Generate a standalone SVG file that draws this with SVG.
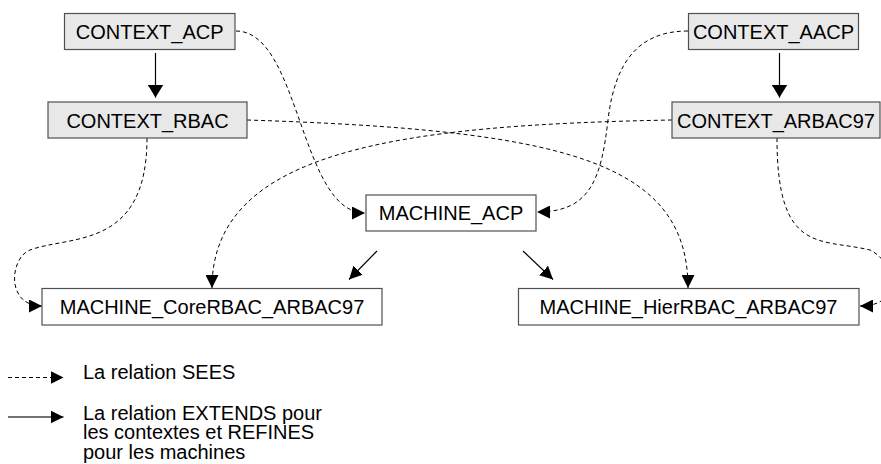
<svg xmlns="http://www.w3.org/2000/svg" width="881" height="464" viewBox="0 0 881 464">
<style>
  .box { stroke: #505050; stroke-width: 1.2; }
  .ctx { fill: #e8e8e8; }
  .mac { fill: #ffffff; }
  .lbl { font-family: "Liberation Sans", Arial, sans-serif; font-size: 20px; fill: #000; }
  .c { text-anchor: middle; }
  .sees { fill: none; stroke: #000; stroke-width: 1; stroke-dasharray: 4 3; }
  .ext { fill: none; stroke: #000; stroke-width: 1.2; }
</style>
<defs>
  <marker id="head" viewBox="0 0 13 13" markerWidth="13" markerHeight="13" refX="13" refY="6.5" orient="auto" markerUnits="userSpaceOnUse">
    <path d="M0,0 L13,6.5 L0,13 Z" fill="#000"/>
  </marker>
  <marker id="headBig" viewBox="0 0 13 16" markerWidth="13" markerHeight="16" refX="13" refY="8" orient="auto" markerUnits="userSpaceOnUse">
    <path d="M0,0 L13,8 L0,16 Z" fill="#000"/>
  </marker>
</defs>
<rect width="881" height="464" fill="#ffffff"/>

<g id="connectors">
  <path class="ext" d="M155.5,53 L155.5,97.5" marker-end="url(#headBig)"/>
  <path class="ext" d="M779.5,53 L779.5,97.5" marker-end="url(#headBig)"/>
  <path class="ext" d="M377,251 L349,279.5" marker-end="url(#head)"/>
  <path class="ext" d="M523,251 L553,279.5" marker-end="url(#head)"/>
  <path class="sees" d="M236,31 C300,31 300,213 365,213" marker-end="url(#head)"/>
  <path class="sees" d="M247,120 C560,130 688,160 688,288" marker-end="url(#head)"/>
  <path class="sees" d="M688,31 C640,31 615,60 608,120 C601,180 590,212 537,212" marker-end="url(#head)"/>
  <path class="sees" d="M672,120 C400,125 212,150 212,288" marker-end="url(#head)"/>
  <path class="sees" d="M147,138 C147,250 70,235 30,250 C10,257.5 5,306 42,306" marker-end="url(#head)"/>
  <path class="sees" d="M777,138 C777,255 820,238 870,250 C895,262 905,306 860,306" marker-end="url(#head)"/>
</g>

<g id="CONTEXT_ACP">
  <rect class="box ctx" x="64.5" y="13.5" width="170.5" height="36"/>
  <text class="lbl c" x="149.7" y="39">CONTEXT_ACP</text>
</g>
<g id="CONTEXT_RBAC">
  <rect class="box ctx" x="48" y="102" width="199" height="36"/>
  <text class="lbl c" x="147.5" y="127.5">CONTEXT_RBAC</text>
</g>
<g id="CONTEXT_AACP">
  <rect class="box ctx" x="688.5" y="13.5" width="170" height="36"/>
  <text class="lbl c" x="773.5" y="39">CONTEXT_AACP</text>
</g>
<g id="CONTEXT_ARBAC97">
  <rect class="box ctx" x="672" y="102" width="208" height="36"/>
  <text class="lbl c" x="776" y="127.5">CONTEXT_ARBAC97</text>
</g>
<g id="MACHINE_ACP">
  <rect class="box mac" x="366" y="195" width="170" height="36"/>
  <text class="lbl c" x="451" y="220">MACHINE_ACP</text>
</g>
<g id="MACHINE_CoreRBAC_ARBAC97">
  <rect class="box mac" x="42" y="288.5" width="340" height="36.5"/>
  <text class="lbl c" x="212" y="314">MACHINE_CoreRBAC_ARBAC97</text>
</g>
<g id="MACHINE_HierRBAC_ARBAC97">
  <rect class="box mac" x="518.5" y="288.5" width="340.5" height="36.5"/>
  <text class="lbl c" x="688.5" y="314">MACHINE_HierRBAC_ARBAC97</text>
</g>

<g id="legend">
  <path class="sees" d="M8,377.5 L63.5,377.5" marker-end="url(#head)"/>
  <path d="M8,417 L63.5,417" fill="none" stroke="#444" stroke-width="1.6" marker-end="url(#head)"/>
  <text class="lbl" x="83" y="378.5">La relation SEES</text>
  <text class="lbl" x="83" y="419.5">La relation EXTENDS pour</text>
  <text class="lbl" x="83" y="439">les contextes et REFINES</text>
  <text class="lbl" x="83" y="458.5">pour les machines</text>
</g>
</svg>
